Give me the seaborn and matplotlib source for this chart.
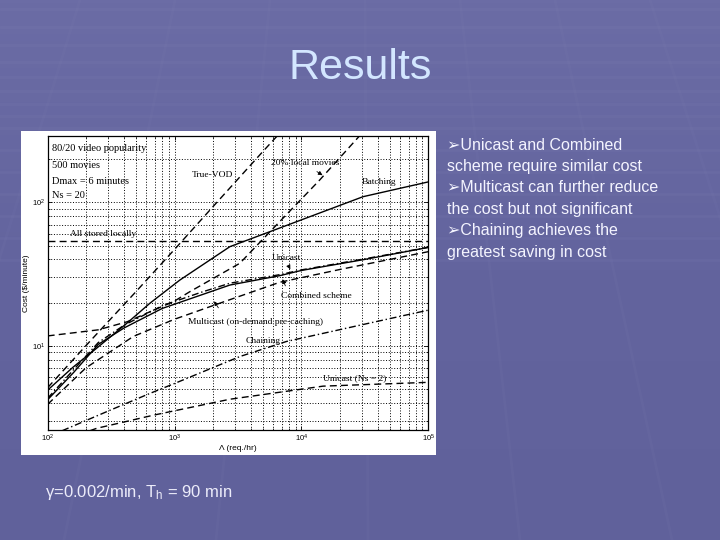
import numpy as np
import matplotlib
matplotlib.use('Agg')
import matplotlib.pyplot as plt
from matplotlib.patches import Rectangle
from matplotlib.colors import LinearSegmentedColormap
from matplotlib.ticker import LogLocator, NullFormatter
import seaborn as sns

# values: lambda in req./hr, cost in $/minute
lam_truevod = [100, 200, 500, 1000, 2000, 5000, 7000]
cost_truevod = [5.1, 10.0, 24, 47, 93, 228, 315]

lam_local20 = [100, 250, 424, 1000, 1318, 3270, 6350, 13900, 28800, 33000]
cost_local20 = [11.7, 12.9, 14.7, 20.5, 23.8, 37.6, 69.5, 143, 292, 335]

lam_allstored = [100, 100000]
cost_allstored = [53.5, 53.5]

lam_batch = [100, 159, 243, 419, 640, 1100, 2730, 9140, 30600, 100000]
cost_batch = [4.9, 7.1, 9.6, 14.3, 19.8, 28.7, 49.1, 73.3, 109.6, 139]

lam_uni = [100, 160, 250, 400, 800, 1600, 2730, 6740, 10000, 31600, 100000]
cost_uni = [4.2, 6.5, 10.2, 13.3, 18.2, 22.5, 26.5, 30.8, 33.5, 40.0, 48.5]
cost_comb = [4.3, 6.8, 10.5, 13.9, 19.0, 23.5, 27.3, 31.3, 33.8, 40.4, 48.6]

lam_multi = [100, 200, 473, 1000, 2275, 6740, 20000, 100000]
cost_multi = [3.9, 7.0, 11.6, 15.3, 19.8, 27.7, 34.0, 45.3]

lam_chain = [130, 300, 645, 1000, 3270, 7620, 30000, 100000]
cost_chain = [2.55, 3.5, 4.66, 5.45, 8.4, 10.7, 14.0, 17.7]

lam_uni2 = [215, 243, 688, 2730, 14800, 100000]
cost_uni2 = [2.55, 2.65, 3.28, 4.23, 5.22, 5.55]

bullets = ['➢Unicast and Combined', 'scheme require similar cost',
           '➢Multicast can further reduce', 'the cost but not significant',
           '➢Chaining achieves the', 'greatest saving in cost']

sns.set_theme(style='white')
plt.rcParams['font.family'] = ['Liberation Sans', 'DejaVu Sans']
plt.rcParams['mathtext.fontset'] = 'custom'
plt.rcParams['mathtext.rm'] = 'Liberation Sans'
plt.rcParams['mathtext.it'] = 'Liberation Sans:italic'
serif = ['Liberation Serif', 'DejaVu Serif']

W, H = 720, 540
fig = plt.figure(figsize=(7.2, 5.4), dpi=100)

# slide background
bg = fig.add_axes([0, 0, 1, 1])
grad = np.linspace(0, 1, H)[:, None] * np.ones((1, W))
cmap = LinearSegmentedColormap.from_list('slide', ['#6b6ca5', '#63649e', '#60619b'])
bg.imshow(grad, cmap=cmap, extent=[0, W, H, 0], aspect='auto')
for y in [9, 27, 45, 62, 77, 91, 104, 116, 128, 150, 172, 194, 216, 238, 260]:
    bg.plot([0, W], [y, y], color='#8586b8', lw=2, alpha=0.13)
for x0 in np.arange(-300, 1060, 95):
    bg.plot([x0, 360 + (x0 - 360) * 1.6], [0, H], color='#8586b8', lw=2, alpha=0.09)
bg.set_xlim(0, W)
bg.set_ylim(H, 0)
bg.axis('off')
bg.add_patch(Rectangle((21, 131), 415, 324, facecolor='white', edgecolor='none', zorder=5))

# chart
ax = fig.add_axes([47.7 / W, 1 - 430 / H, 380.6 / W, 294.3 / H])
ax.set_facecolor('white')
ax.set_xscale('log')
ax.set_yscale('log')

def draw(lam, cost, ls, lw=1.0):
    sns.lineplot(x=lam, y=cost, ax=ax, color='black', linestyle=ls,
                 linewidth=lw, estimator=None, sort=False)

dash = (0, (5, 3))
dashdot = (0, (5, 2, 1, 2))
draw(lam_truevod, cost_truevod, dash)
draw(lam_local20, cost_local20, dash)
draw(lam_allstored, cost_allstored, dash)
draw(lam_batch, cost_batch, '-')
draw(lam_uni, cost_uni, '-')
draw(lam_uni, cost_comb, dashdot)
draw(lam_multi, cost_multi, dash)
draw(lam_chain, cost_chain, dashdot)
draw(lam_uni2, cost_uni2, dash)

ax.set_xlim(100, 100000)
ax.set_ylim(2.58, 292)
ax.set_xticks([1e2, 1e3, 1e4, 1e5])
ax.set_xticklabels(['$10^2$', '$10^3$', '$10^4$', '$10^5$'])
ax.set_yticks([1e1, 1e2])
ax.set_yticklabels(['$10^1$', '$10^2$'])
ax.xaxis.set_minor_locator(LogLocator(base=10, subs=range(2, 10)))
ax.yaxis.set_minor_locator(LogLocator(base=10, subs=range(2, 10)))
ax.xaxis.set_minor_formatter(NullFormatter())
ax.yaxis.set_minor_formatter(NullFormatter())
ax.grid(True, which='both', linestyle=(0, (1, 1.8)), color='black', linewidth=0.7)
ax.tick_params(which='both', direction='in', bottom=True, left=True, top=True, right=True,
               labelsize=5.5, pad=2, colors='black')
ax.tick_params(which='major', length=3, width=0.6)
ax.tick_params(which='minor', length=1.5, width=0.5)
for s in ax.spines.values():
    s.set_color('black')
    s.set_linewidth(0.9)
ax.set_xlabel('Λ (req./hr)', fontsize=6, labelpad=1, color='black')
ax.set_ylabel('Cost (\\$/minute)', fontsize=6, color='black', va='center')
ax.yaxis.set_label_coords(-0.056, 0.5)

# labels inside the chart
for i, t in enumerate(['80/20 video popularity', '500 movies', 'Dmax = 6 minutes', 'Ns = 20']):
    ax.text(0.012, [0.957, 0.900, 0.844, 0.796][i], t, transform=ax.transAxes,
            fontsize=7.5, family=serif, va='center', ha='left', color='black')
lab = dict(fontsize=6.8, family=serif, va='center', color='black')
ax.text(150, 60, 'All stored locally', **lab)
ax.text(2900, 155, 'True-VOD', ha='right', **lab)
ax.text(5800, 187, '20% local movies', **lab)
ax.text(29700, 138, 'Batching', **lab)
ax.text(5880, 41.1, 'Unicast', **lab)
ax.text(6840, 22.3, 'Combined scheme', **lab)
ax.text(1280, 14.7, 'Multicast (on-demand pre-caching)', **lab)
ax.text(3650, 10.8, 'Chaining', **lab)
ax.text(14800, 5.9, 'Unicast (Ns = 2)', **lab)

arrow = dict(arrowstyle='-|>', color='black', lw=0.6, mutation_scale=6)
ax.annotate('', xy=(15300, 151), xytext=(12700, 168), arrowprops=arrow)
ax.annotate('', xy=(8360, 32.8), xytext=(7850, 36.6), arrowprops=arrow)
ax.annotate('', xy=(6970, 30.3), xytext=(7620, 25.1), arrowprops=arrow)
ax.annotate('', xy=(1995, 21.2), xytext=(2275, 17.7), arrowprops=arrow)

# slide text
fig.text(0.5, 1 - 68 / H, 'Results', ha='center', va='center', fontsize=31, color='#d3e6ff')
for i, line in enumerate(bullets):
    fig.text(447 / W, 1 - (145 + 21.4 * i) / H, line, ha='left', va='center',
             fontsize=11.5, color='#f4f4ff')
fig.text(45 / W, 1 - 493 / H, 'γ=0.002/min, T$_{\\mathrm{h}}$ = 90 min', ha='left', va='center',
         fontsize=12, color='#ececfa')

fig.savefig('out.png', dpi=100)
